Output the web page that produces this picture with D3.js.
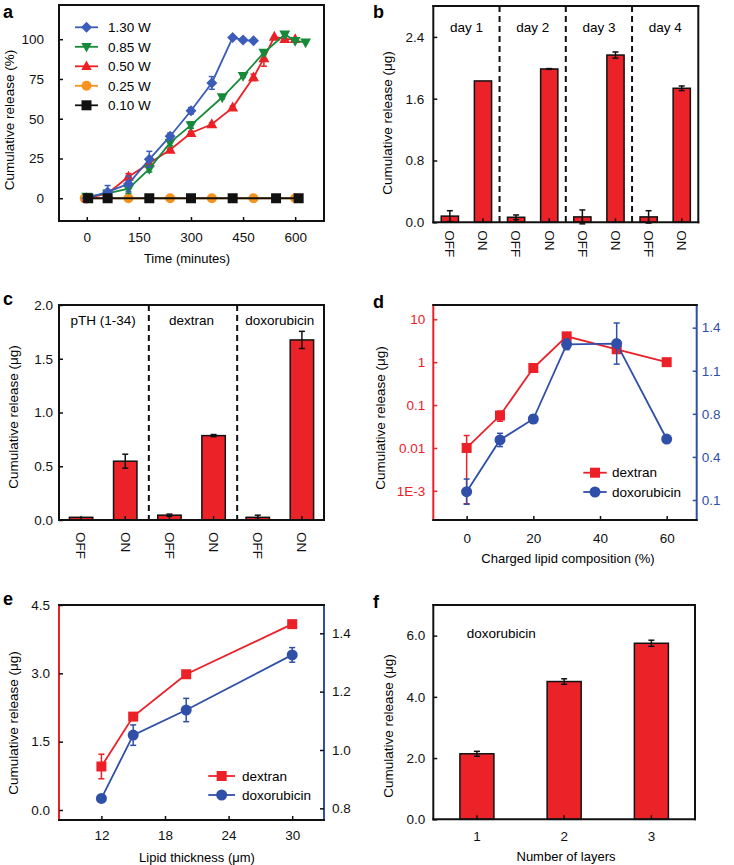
<!DOCTYPE html>
<html><head><meta charset="utf-8">
<script src="https://cdn.jsdelivr.net/npm/d3@7"></script>
<style>body{margin:0;background:#fff}svg{display:block;font-family:"Liberation Sans",Arial,sans-serif}</style>
</head><body><svg id="c" width="734" height="865"></svg>
<script>
// ---------- DATA ----------
// panel a
const aNames = ["1.30 W","0.85 W","0.50 W","0.25 W","0.10 W"];
const aX130 = [0,60,120,180,240,300,360,420,450,480];
const aY130 = [0,4,9,24.5,39,55,72.5,101,99.5,99];
const aE130 = [0,4,5,5,2,2,4,0,0,0];
const aX085 = [0,60,120,180,240,300,390,450,510,570,600,630];
const aY085 = [1,3,6,18.5,35,46,63.5,77,91.5,103,99,98];
const aE085 = [0,1,3,2,2,2,1,1,1,0,0,0];
const aX050 = [0,60,120,180,240,300,360,420,480,510,540,570,600];
const aY050 = [0,3,13.5,22,30.5,41,46.5,57,76,88,101.5,100,100];
const aE050 = [0,1,2,1,1,1,1,1,2,5,0,0,0];
const aX025 = [-6,120,240,360,480,600];
const aY025 = [0,0,0,0,0,0];
const aX010 = [4,60,180,300,420,545,610];
const aY010 = [0,0,0,0,0,0,0];
const aXTicks = [0,150,300,450,600];
const aYTicks = [0,25,50,75,100];
// panel b
const bCats = ["OFF","ON","OFF","ON","OFF","ON","OFF","ON"];
const bVals = [0.08,1.83,0.065,1.985,0.07,2.165,0.07,1.735];
const bErr  = [0.07,0,0.03,0.005,0.09,0.04,0.08,0.03];
const bDays = ["day 1","day 2","day 3","day 4"];
const bYTicks = [0,0.8,1.6,2.4];
// panel c
const cCats = ["OFF","ON","OFF","ON","OFF","ON"];
const cVals = [0.025,0.547,0.045,0.785,0.025,1.675];
const cErr  = [0,0.065,0.01,0.01,0.02,0.08];
const cGroups = ["pTH (1-34)","dextran","doxorubicin"];
const cYTicks = [0,0.5,1.0,1.5,2.0];
// panel d
const dX = [0,10,20,30,45,60];
const dDextran = [0.01,0.057,0.73,4.0,2.0,1.0];
const dDextranErr = [0.0095,0.015,0.05,0.2,0.1,0.05];
const dDoxo = [0.163,0.553,0.711,1.274,1.28,0.56];
const dDoxoErr = [0.095,0.05,0.03,0.04,0.155,0.01];
const dXTicks = [0,20,40,60];
const dYLTicks = [0.001,0.01,0.1,1,10];
const dYLLabels = ["1E-3","0.01","0.1","1","10"];
const dYRTicks = [0.1,0.425,0.75,1.075,1.4];
const dYRLabels = ["0.1","0.4","0.8","1.1","1.4"];
// panel e
const eX = [12,15,20,30];
const eDextran = [0.955,2.05,2.98,4.08];
const eDextranErr = [0.27,0.05,0.05,0.05];
const eDoxo = [0.834,1.051,1.137,1.326];
const eDoxoErr = [0,0.035,0.04,0.025];
const eXTicks = [12,18,24,30];
const eYLTicks = [0,1.5,3.0,4.5];
const eYRTicks = [0.8,1.0,1.2,1.4];
// panel f
const fCats = ["1","2","3"];
const fVals = [2.14,4.5,5.75];
const fErr  = [0.08,0.09,0.1];
const fYTicks = [0,2,4,6];

// ---------- STYLE ----------
const RED="#ec2027", BLUE="#2f4fa8", BLUEA="#3b5cb8", GREEN="#178a3a", ORANGE="#f6921e", BLACK="#111";
const FS=13.5;
const svg=d3.select("#c");

function frame(g,l,t,r,b,cols){
  cols=cols||{};
  const L=[[l,t,l,b,cols.left||BLACK],[r,t,r,b,cols.right||BLACK],[l,t,r,t,cols.top||BLACK],[l,b,r,b,cols.bottom||BLACK]];
  L.forEach(s=>g.append("line").attr("x1",s[0]).attr("y1",s[1]).attr("x2",s[2]).attr("y2",s[3])
    .attr("stroke",s[4]).attr("stroke-width",2).attr("stroke-linecap","square"));
}
function styleAxis(sel,color){
  sel.select(".domain").remove();
  sel.selectAll(".tick line").attr("stroke",color).attr("stroke-width",1.5);
  sel.selectAll(".tick text").attr("fill",color).style("font-size",FS+"px").style("font-family",'"Liberation Sans",Arial,sans-serif');
}
function leftAxis(g,scale,x0,ticks,pad,color,labels,fmt){
  const ax=d3.axisLeft(scale).tickValues(ticks).tickSizeInner(-4).tickSizeOuter(0).tickPadding(pad);
  if(labels) ax.tickFormat((d,i)=>labels[i]); else if(fmt) ax.tickFormat(d3.format(fmt));
  const s=g.append("g").attr("transform",`translate(${x0},0)`).call(ax);
  styleAxis(s,color||BLACK);
}
function rightAxis(g,scale,x0,ticks,pad,color,labels,fmt){
  const ax=d3.axisRight(scale).tickValues(ticks).tickSizeInner(-4).tickSizeOuter(0).tickPadding(pad);
  if(labels) ax.tickFormat((d,i)=>labels[i]); else if(fmt) ax.tickFormat(d3.format(fmt));
  const s=g.append("g").attr("transform",`translate(${x0},0)`).call(ax);
  styleAxis(s,color||BLACK);
}
function bottomAxis(g,scale,y0,ticks,pad,labels,rotate){
  const ax=d3.axisBottom(scale).tickSizeInner(-4).tickSizeOuter(0).tickPadding(pad);
  if(ticks) ax.tickValues(ticks);
  if(labels) ax.tickFormat((d,i)=>labels[i]);
  const s=g.append("g").attr("transform",`translate(0,${y0})`).call(ax);
  styleAxis(s,BLACK);
  if(rotate){
    s.selectAll(".tick text").attr("y",0).attr("x",pad).attr("dy","0.35em")
      .attr("transform","rotate(90)").style("text-anchor","start");
  }
}
function yTitle(g,text,cx,cy){
  g.append("text").attr("transform",`translate(${cx},${cy}) rotate(-90)`).attr("text-anchor","middle")
   .attr("dy","0.35em").style("font-size","13.5px").text(text);
}
function xTitle(g,text,cx,cy){
  g.append("text").attr("x",cx).attr("y",cy).attr("text-anchor","middle").attr("dy","0.35em")
   .style("font-size","13px").text(text);
}
function panelLabel(text,x,y){
  svg.append("text").attr("x",x).attr("y",y).style("font-size","18px").style("font-weight","bold").text(text);
}
function markerPath(type,r){
  switch(type){
    case "diamond": return `M0,${-r*1.1}L${r*1.1},0L0,${r*1.1}L${-r*1.1},0Z`;
    case "triUp": return `M0,${-r*1.15}L${r*1.05},${r*0.75}L${-r*1.05},${r*0.75}Z`;
    case "triDown": return `M0,${r*1.15}L${r*1.05},${-r*0.75}L${-r*1.05},${-r*0.75}Z`;
    case "square": return `M${-r},${-r}H${r}V${r}H${-r}Z`;
    default: return d3.arc()({innerRadius:0,outerRadius:r,startAngle:0,endAngle:2*Math.PI});
  }
}
function series(g,xs,ys,es,x,y,color,shape,r){
  const pts=xs.map((d,i)=>({x:d,y:ys[i],e:es?es[i]:0}));
  g.append("path").datum(pts).attr("fill","none").attr("stroke",color).attr("stroke-width",1.8)
   .attr("d",d3.line().x(d=>x(d.x)).y(d=>y(d.y)));
  pts.filter(d=>d.e>0).forEach(d=>{
    const cx=x(d.x), y1=y(d.y-d.e), y2=y(d.y+d.e);
    g.append("line").attr("x1",cx).attr("x2",cx).attr("y1",y1).attr("y2",y2).attr("stroke",color).attr("stroke-width",1.5);
    [y1,y2].forEach(yy=>g.append("line").attr("x1",cx-3).attr("x2",cx+3).attr("y1",yy).attr("y2",yy).attr("stroke",color).attr("stroke-width",1.5));
  });
  g.selectAll(null).data(pts).enter().append("path").attr("d",markerPath(shape,r))
   .attr("transform",d=>`translate(${x(d.x)},${y(d.y)})`).attr("fill",color);
}
function legendItem(g,x1,x2,tx,yy,color,shape,r,label){
  g.append("line").attr("x1",x1).attr("x2",x2).attr("y1",yy).attr("y2",yy).attr("stroke",color).attr("stroke-width",1.8);
  g.append("path").attr("d",markerPath(shape,r)).attr("transform",`translate(${(x1+x2)/2},${yy})`).attr("fill",color);
  g.append("text").attr("x",tx).attr("y",yy).attr("dy","0.35em").style("font-size",FS+"px").text(label);
}
function bars(g,cats,vals,errs,x,y){
  cats.forEach((c,i)=>{
    const bx=x(i), bw=x.bandwidth(), top=y(vals[i]);
    g.append("rect").attr("x",bx).attr("y",top).attr("width",bw).attr("height",y(0)-top)
     .attr("fill","#ec2229").attr("stroke",BLACK).attr("stroke-width",1.5);
    if(errs[i]>0){
      const cx=bx+bw/2, y1=y(vals[i]-errs[i]), y2=y(vals[i]+errs[i]);
      g.append("line").attr("x1",cx).attr("x2",cx).attr("y1",y1).attr("y2",y2).attr("stroke",BLACK).attr("stroke-width",1.5);
      [y1,y2].forEach(yy=>g.append("line").attr("x1",cx-3).attr("x2",cx+3).attr("y1",yy).attr("y2",yy).attr("stroke",BLACK).attr("stroke-width",1.5));
    }
  });
}
function dashed(g,xx,t,b){
  g.append("line").attr("x1",xx).attr("x2",xx).attr("y1",t).attr("y2",b).attr("stroke",BLACK)
   .attr("stroke-width",2).attr("stroke-dasharray","6,4");
}

// ---------- PANEL A ----------
{
  const g=svg.append("g");
  const L=59,R=324,T=5,B=221;
  const x=d3.scaleLinear().domain([-80,683]).range([L,R]);
  const y=d3.scaleLinear().domain([-14.3,121.5]).range([B,T]);
  series(g,aX025,aY025,null,x,y,ORANGE,"circle",5);
  series(g,aX050,aY050,aE050,x,y,RED,"triUp",5.2);
  series(g,aX085,aY085,aE085,x,y,GREEN,"triDown",5.2);
  series(g,aX130,aY130,aE130,x,y,BLUEA,"diamond",5);
  series(g,aX010,aY010,null,x,y,BLACK,"square",5);
  frame(g,L,T,R,B);
  leftAxis(g,y,L,aYTicks,15);
  bottomAxis(g,x,B,aXTicks,11);
  const cols=[BLUEA,GREEN,RED,ORANGE,BLACK], shp=["diamond","triDown","triUp","circle","square"];
  aNames.forEach((n,i)=>legendItem(g,75,98,108,27.3+i*19.5,cols[i],shp[i],5,n));
  yTitle(g,"Cumulative release (%)",9,120);
  xTitle(g,"Time (minutes)",187,258);
  panelLabel("a",3,18);
}
// ---------- PANEL B ----------
{
  const g=svg.append("g");
  const L=433.3,R=698.3,T=6,B=222.3;
  const x=d3.scaleBand().domain(d3.range(bCats.length)).range([L,R]).paddingInner(0.48).paddingOuter(0.24);
  const y=d3.scaleLinear().domain([0,2.8]).range([B,T]);
  bars(g,bCats,bVals,bErr,x,y);
  const step=x.step();
  [1,2,3].forEach(k=>dashed(g,L+step*2*k,T,B));
  bDays.forEach((d,k)=>g.append("text").attr("x",L+step*(2*k+1)).attr("y",27.5).attr("dy","0.35em")
    .attr("text-anchor","middle").style("font-size",FS+"px").text(d));
  frame(g,L,T,R,B);
  leftAxis(g,y,L,bYTicks,9,BLACK,null,".1f");
  bottomAxis(g,x,B,null,8,bCats,true);
  yTitle(g,"Cumulative release (\u03bcg)",387,123);
  panelLabel("b",373,18);
}
// ---------- PANEL C ----------
{
  const g=svg.append("g");
  const L=59,R=324,T=305,B=520;
  const x=d3.scaleBand().domain(d3.range(cCats.length)).range([L,R]).paddingInner(0.47).paddingOuter(0.235);
  const y=d3.scaleLinear().domain([0,2]).range([B,T]);
  bars(g,cCats,cVals,cErr,x,y);
  const step=x.step();
  [1,2].forEach(k=>dashed(g,L+step*2*k+1.5,T,B));
  cGroups.forEach((d,k)=>g.append("text").attr("x",L+step*(2*k+1)).attr("y",320).attr("dy","0.35em")
    .attr("text-anchor","middle").style("font-size",FS+"px").text(d));
  frame(g,L,T,R,B);
  leftAxis(g,y,L,cYTicks,6,BLACK,null,".1f");
  bottomAxis(g,x,B,null,12,cCats,true);
  yTitle(g,"Cumulative release (\u03bcg)",13,417);
  panelLabel("c",3,305);
}
// ---------- PANEL D ----------
{
  const g=svg.append("g");
  const L=433.3,R=696.7,T=305,B=520;
  const x=d3.scaleLinear().domain([-10,69]).range([L,R]);
  const yL=d3.scaleLog().domain([Math.pow(10,-3.68),Math.pow(10,1.333)]).range([B,T]);
  const yR=d3.scaleLinear().domain([-0.0509,1.571]).range([B,T]);
  series(g,dX,dDextran,dDextranErr,x,yL,RED,"square",5);
  series(g,dX,dDoxo,dDoxoErr,x,yR,BLUE,"circle",5.5);
  frame(g,L,T,R,B,{left:RED,right:BLUE});
  leftAxis(g,yL,L,dYLTicks,8,RED,dYLLabels);
  rightAxis(g,yR,R,dYRTicks,5,BLUE,dYRLabels);
  bottomAxis(g,x,B,dXTicks,13);
  legendItem(g,583.3,606.7,612,472.7,RED,"square",5,"dextran");
  legendItem(g,583.3,606.7,612,492,BLUE,"circle",5.5,"doxorubicin");
  yTitle(g,"Cumulative release (\u03bcg)",380,418);
  xTitle(g,"Charged lipid composition (%)",568,558);
  panelLabel("d",373,308);
}
// ---------- PANEL E ----------
{
  const g=svg.append("g");
  const L=59,R=324,T=605,B=820;
  const x=d3.scaleLinear().domain([8,33]).range([L,R]);
  const yL=d3.scaleLinear().domain([-0.2195,4.5]).range([B,T]);
  const yR=d3.scaleLinear().domain([0.76,1.497]).range([B,T]);
  series(g,eX,eDextran,eDextranErr,x,yL,RED,"square",5);
  series(g,eX,eDoxo,eDoxoErr,x,yR,BLUE,"circle",5.5);
  frame(g,L,T,R,B,{left:RED,right:BLUE});
  leftAxis(g,yL,L,eYLTicks,9,BLACK,null,".1f");
  rightAxis(g,yR,R,eYRTicks,8,BLACK,null,".1f");
  bottomAxis(g,x,B,eXTicks,10);
  legendItem(g,208.3,235,242,776,RED,"square",5,"dextran");
  legendItem(g,208.3,235,242,795,BLUE,"circle",5.5,"doxorubicin");
  yTitle(g,"Cumulative release (\u03bcg)",13.5,723);
  xTitle(g,"Lipid thickness (\u03bcm)",197,857);
  panelLabel("e",3,605);
}
// ---------- PANEL F ----------
{
  const g=svg.append("g");
  const L=433.3,R=695,T=605,B=819.3;
  const x=d3.scaleBand().domain(d3.range(fCats.length)).range([L,R]).paddingInner(0.61).paddingOuter(0.305);
  const y=d3.scaleLinear().domain([0,7]).range([B,T]);
  bars(g,fCats,fVals,fErr,x,y);
  g.append("text").attr("x",466.7).attr("y",633).attr("dy","0.35em").style("font-size",FS+"px").text("doxorubicin");
  frame(g,L,T,R,B);
  leftAxis(g,y,L,fYTicks,8,BLACK,null,".1f");
  bottomAxis(g,x,B,null,12,fCats,false);
  yTitle(g,"Cumulative release (\u03bcg)",388.5,726);
  xTitle(g,"Number of layers",566,856);
  panelLabel("f",373,608);
}
</script></body></html>
